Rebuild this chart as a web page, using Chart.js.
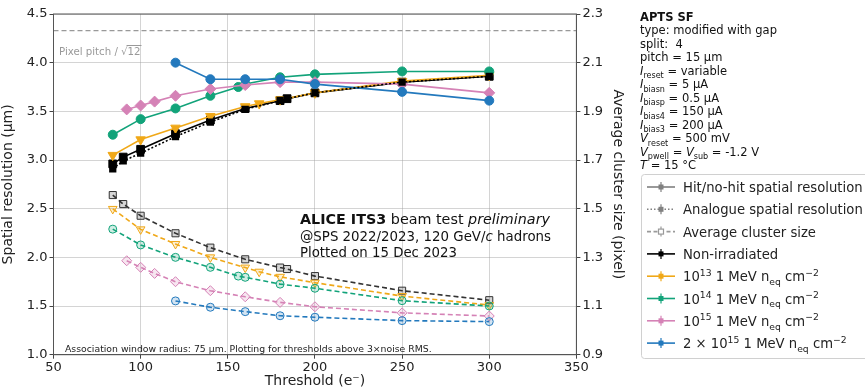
<!DOCTYPE html>
<html>
<head>
<meta charset="utf-8">
<script src="https://cdn.jsdelivr.net/npm/chart.js@4.4.1/dist/chart.umd.min.js"></script>
<style>
  body { margin: 0; background: #fff; }
  #wrap { width: 865px; height: 390px; }
</style>
</head>
<body>
<div id="wrap"><canvas id="chart" width="865" height="390"></canvas></div>
<script>
// tick labels
var xTicks = [50, 100, 150, 200, 250, 300, 350];
var resTicks = [1.0, 1.5, 2.0, 2.5, 3.0, 3.5, 4.0, 4.5];
var clsTicks = [0.9, 1.1, 1.3, 1.5, 1.7, 1.9, 2.1, 2.3];

// pixel pitch / sqrt(12) line
var pitchLimit = [4.33, 4.33];
var pitchX = [50, 350];

// non-irradiated
var thrBlack = [84, 90, 100, 120, 140, 160, 180, 184, 200, 250, 300];
var hitBlack = [2.96, 3.03, 3.11, 3.27, 3.41, 3.53, 3.61, 3.63, 3.69, 3.80, 3.86];
var anaBlack = [2.91, 2.99, 3.07, 3.24, 3.39, 3.52, 3.61, 3.63, 3.69, 3.80, 3.86];
var clsBlack = [1.556, 1.519, 1.471, 1.399, 1.340, 1.292, 1.258, 1.252, 1.223, 1.163, 1.124];

// 1e13
var thrYellow = [84, 100, 120, 140, 160, 168, 180, 200, 250, 300];
var hitYellow = [3.05, 3.21, 3.33, 3.45, 3.55, 3.58, 3.62, 3.69, 3.81, 3.87];
var clsYellow = [1.499, 1.415, 1.355, 1.300, 1.258, 1.241, 1.220, 1.196, 1.141, 1.104];

// 1e14
var thrGreen = [84, 100, 120, 140, 156, 160, 180, 200, 250, 300];
var hitGreen = [3.26, 3.42, 3.53, 3.66, 3.75, 3.78, 3.85, 3.88, 3.91, 3.91];
var clsGreen = [1.416, 1.351, 1.300, 1.259, 1.223, 1.218, 1.190, 1.173, 1.122, 1.100];

// 1e15
var thrPink = [92, 100, 108, 120, 140, 160, 180, 200, 250, 300];
var hitPink = [3.52, 3.56, 3.60, 3.66, 3.73, 3.77, 3.80, 3.80, 3.78, 3.69];
var clsPink = [1.286, 1.259, 1.234, 1.200, 1.163, 1.138, 1.115, 1.097, 1.072, 1.059];

// 2e15
var thrBlue = [120, 140, 160, 180, 200, 250, 300];
var hitBlue = [4.00, 3.83, 3.83, 3.83, 3.78, 3.70, 3.61];
var clsBlue = [1.121, 1.095, 1.077, 1.060, 1.054, 1.040, 1.036];

var cBlack = '#000000', cYellow = '#f0a818', cGreen = '#12a37a', cPink = '#d582b6', cBlue = '#2379bd';
var FONT = '"DejaVu Sans", sans-serif';

function pts(xs, ys) {
    return xs.map(function (x, i) { return { x: x, y: ys[i] }; });
}

function alpha(hex, a) {
    var n = parseInt(hex.slice(1), 16);
    return 'rgba(' + (n >> 16) + ',' + ((n >> 8) & 255) + ',' + (n & 255) + ',' + a + ')';
}

function hitSet(xs, ys, color, shape, r, rot) {
    return {
        data: pts(xs, ys), yAxisID: 'y', borderColor: color, backgroundColor: color,
        borderWidth: 1.6, pointStyle: shape, pointRadius: r, pointRotation: rot || 0,
        pointBorderWidth: 1
    };
}

function anaSet(xs, ys, color) {
    return {
        data: pts(xs, ys), yAxisID: 'y', borderColor: color, backgroundColor: color,
        borderWidth: 1.6, borderDash: [2, 2], pointStyle: 'rect', pointRadius: 4
    };
}

function clsSet(xs, ys, color, shape, r, rot) {
    return {
        data: pts(xs, ys), yAxisID: 'y1', borderColor: color, backgroundColor: alpha(color, 0.2),
        borderWidth: 1.6, borderDash: [5, 3], pointStyle: shape, pointRadius: r,
        pointRotation: rot || 0, pointBorderWidth: 1
    };
}

// 文字：上下标、斜体、粗体
function richFont(s, size) {
    var fs = size, dy = 0, st = '';
    if (s == 'b') st = 'bold ';
    if (s == 'i') st = 'italic ';
    if (s == 'sub') { fs = size * 0.7; dy = size * 0.3; }
    if (s == 'sup') { fs = size * 0.7; dy = -size * 0.42; }
    return { font: st + fs + 'px ' + FONT, dy: dy };
}

function drawRich(ctx, x, y, parts, size, color, fitW) {
    var total = 0;
    parts.forEach(function (p) {
        ctx.font = richFont(p[1] || 'n', size).font;
        total += ctx.measureText(p[0]).width;
    });
    var sx = fitW ? fitW / total : 1;
    ctx.save();
    ctx.translate(x, y);
    ctx.scale(sx, 1);
    ctx.fillStyle = color || '#222';
    ctx.textBaseline = 'alphabetic';
    ctx.textAlign = 'left';
    var cx = 0;
    parts.forEach(function (p) {
        var f = richFont(p[1] || 'n', size);
        ctx.font = f.font;
        ctx.fillText(p[0], cx, f.dy);
        cx += ctx.measureText(p[0]).width;
    });
    ctx.restore();
    return x + cx * sx;
}

var infoLines = [
    [['APTS SF', 'b']],
    [['type: modified with gap']],
    [['split:  4']],
    [['pitch = 15 µm']],
    [['I', 'i'], ['reset', 'sub'], [' = variable']],
    [['I', 'i'], ['biasn', 'sub'], [' = 5 µA']],
    [['I', 'i'], ['biasp', 'sub'], [' = 0.5 µA']],
    [['I', 'i'], ['bias4', 'sub'], [' = 150 µA']],
    [['I', 'i'], ['bias3', 'sub'], [' = 200 µA']],
    [['V', 'i'], ['reset', 'sub'], [' = 500 mV']],
    [['V', 'i'], ['pwell', 'sub'], [' = '], ['V', 'i'], ['sub', 'sub'], [' = -1.2 V']],
    [['T', 'i'], [' = 15 °C']]
];

function fluence(pre, exp) {
    return [[pre], [exp, 'sup'], [' 1 MeV n'], ['eq', 'sub'], [' cm'], ['−2', 'sup']];
}

var legendItems = [
    { text: [['Hit/no-hit spatial resolution']], color: '#808080', dash: [], fill: true },
    { text: [['Analogue spatial resolution']], color: '#808080', dash: [1.5, 2], fill: true },
    { text: [['Average cluster size']], color: '#9a9a9a', dash: [4, 2.5], fill: false },
    { text: [['Non-irradiated']], color: cBlack, dash: [], fill: true },
    { text: fluence('10', '13'), color: cYellow, dash: [], fill: true },
    { text: fluence('10', '14'), color: cGreen, dash: [], fill: true },
    { text: fluence('10', '15'), color: cPink, dash: [], fill: true },
    { text: fluence('2 × 10', '15'), color: cBlue, dash: [], fill: true }
];

var decorPlugin = {
    id: 'decor',
    afterDraw: function (chart) {
        var ctx = chart.ctx, a = chart.chartArea;
        ctx.save();
        // frame
        ctx.strokeStyle = '#555';
        ctx.lineWidth = 1;
        ctx.strokeRect(a.left, a.top, a.right - a.left, a.bottom - a.top);

        // pixel pitch label
        var ex = drawRich(ctx, 59, 55, [['Pixel pitch / √']], 10.2, '#999');
        var ex2 = drawRich(ctx, ex, 55, [['12']], 10.2, '#999');
        ctx.strokeStyle = '#999';
        ctx.beginPath(); ctx.moveTo(ex - 1, 45.5); ctx.lineTo(ex2 + 1, 45.5); ctx.stroke();

        // beam test text
        drawRich(ctx, 300, 224, [['ALICE ITS3', 'b'], [' beam test '], ['preliminary', 'i']], 14.5, '#111', 250);
        drawRich(ctx, 300, 240.5, [['@SPS 2022/2023, 120 GeV/'], ['c', 'i'], [' hadrons']], 14.5, '#111', 251);
        drawRich(ctx, 300, 257, [['Plotted on 15 Dec 2023']], 14.5, '#111', 157);

        drawRich(ctx, 65, 352, [['Association window radius: 75 µm. Plotting for thresholds above 3×noise RMS.']], 9.3, '#222');

        // info block
        infoLines.forEach(function (l, i) {
            drawRich(ctx, 640, 21 + i * 13.45, l, 11.5, '#111');
        });

        // legend
        ctx.fillStyle = 'rgba(255,255,255,0.9)';
        ctx.strokeStyle = '#d0d0d0';
        ctx.beginPath();
        ctx.roundRect(641.5, 174.5, 240, 184, 3);
        ctx.fill(); ctx.stroke();
        legendItems.forEach(function (it, i) {
            var cy = 187 + i * 22.3;
            ctx.strokeStyle = it.color;
            ctx.lineWidth = 1.6;
            ctx.setLineDash(it.dash);
            ctx.beginPath(); ctx.moveTo(647, cy); ctx.lineTo(675, cy); ctx.stroke();
            ctx.setLineDash([]);
            ctx.lineWidth = 1.2;
            ctx.beginPath(); ctx.moveTo(661, cy - 5); ctx.lineTo(661, cy + 5); ctx.stroke();
            if (it.fill) {
                ctx.fillStyle = it.color;
                ctx.fillRect(658.5, cy - 2.5, 5, 5);
            } else {
                ctx.fillStyle = '#fff';
                ctx.fillRect(658.5, cy - 2.5, 5, 5);
                ctx.strokeRect(658.5, cy - 2.5, 5, 5);
            }
            drawRich(ctx, 683, cy + 5, it.text, 13.2, '#222');
        });
        ctx.restore();
    }
};

var datasets = [
    {
        data: pts(pitchX, pitchLimit), yAxisID: 'y', borderColor: '#999', borderWidth: 1.2,
        borderDash: [5, 3], pointRadius: 0
    },
    clsSet(thrBlue, clsBlue, cBlue, 'circle', 4),
    clsSet(thrPink, clsPink, cPink, 'rectRot', 5),
    clsSet(thrGreen, clsGreen, cGreen, 'circle', 4),
    clsSet(thrYellow, clsYellow, cYellow, 'triangle', 5, 180),
    clsSet(thrBlack, clsBlack, '#333333', 'rect', 5),
    anaSet(thrBlack, anaBlack, cBlack),
    hitSet(thrBlue, hitBlue, cBlue, 'circle', 4.5),
    hitSet(thrPink, hitPink, cPink, 'rectRot', 5.5),
    hitSet(thrGreen, hitGreen, cGreen, 'circle', 4.5),
    hitSet(thrYellow, hitYellow, cYellow, 'triangle', 5.5, 180),
    hitSet(thrBlack, hitBlack, cBlack, 'rect', 5.5)
];

var tickFont = { family: FONT, size: 13 };
var gridCol = 'rgba(160,160,160,0.45)';

new Chart(document.getElementById('chart').getContext('2d'), {
    type: 'line',
    data: { datasets: datasets },
    options: {
        responsive: false,
        animation: false,
        devicePixelRatio: 1,
        layout: { padding: { left: 0, top: 14, right: 238.6, bottom: 0 } },
        plugins: { legend: { display: false }, tooltip: { enabled: false } },
        scales: {
            x: {
                type: 'linear', min: 50, max: 350,
                afterBuildTicks: function (s) { s.ticks = xTicks.map(function (v) { return { value: v }; }); },
                afterFit: function (s) { s.height = 35.3; },
                ticks: { font: tickFont, color: '#222', padding: 1, maxRotation: 0 },
                grid: { color: gridCol, tickColor: '#444', tickLength: 4 },
                border: { color: '#555' },
                title: { display: true, text: 'Threshold (e⁻)', font: { family: FONT, size: 14 }, color: '#222', padding: 0 }
            },
            y: {
                position: 'left', min: 1.0, max: 4.5,
                afterBuildTicks: function (s) { s.ticks = resTicks.map(function (v) { return { value: v }; }); },
                afterFit: function (s) { s.width = 53.5; },
                ticks: { font: tickFont, color: '#222', padding: 2, callback: function (v) { return v.toFixed(1); } },
                grid: { color: gridCol, tickColor: '#444', tickLength: 4 },
                border: { color: '#555' },
                title: { display: true, text: 'Spatial resolution (µm)', font: { family: FONT, size: 14 }, color: '#222', padding: 0 }
            },
            y1: {
                position: 'right', min: 0.9, max: 2.3,
                afterBuildTicks: function (s) { s.ticks = clsTicks.map(function (v) { return { value: v }; }); },
                afterFit: function (s) { s.width = 50; },
                ticks: { font: tickFont, color: '#222', padding: 2, callback: function (v) { return v.toFixed(1); } },
                grid: { drawOnChartArea: false, tickColor: '#444', tickLength: 4 },
                border: { color: '#555' },
                title: { display: true, text: 'Average cluster size (pixel)', font: { family: FONT, size: 14 }, color: '#222', padding: 0 }
            }
        }
    },
    plugins: [decorPlugin]
});
</script>
</body>
</html>
